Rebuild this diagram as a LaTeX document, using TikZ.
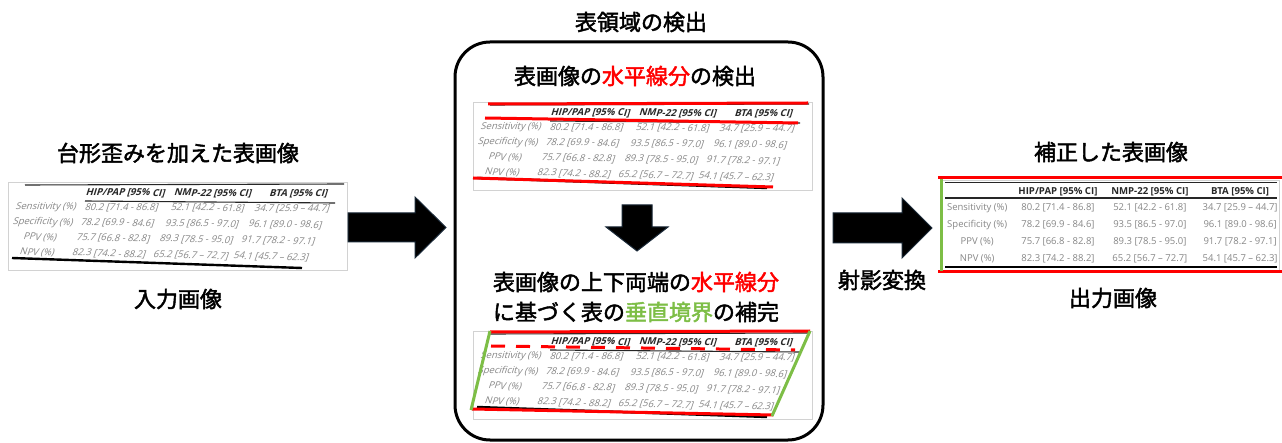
\documentclass[tikz,border=0pt]{standalone}
\usepackage{fontspec}
\newfontfamily\jp{Noto Sans CJK JP}[FakeBold=2]
\newfontfamily\tbl{Open Sans}
\usetikzlibrary{calc}
\definecolor{myred}{RGB}{255,0,0}
\definecolor{mygreen}{RGB}{125,190,70}
\definecolor{bodygray}{RGB}{135,135,135}
\definecolor{hdgray}{RGB}{40,40,40}
\definecolor{bordergray}{RGB}{210,210,210}
\definecolor{arrowedge}{RGB}{25,40,55}

\newcommand\tcell[6]{%
  \path ($(#1TL)!#4!(#1BL)$) coordinate (#1#2a) ($(#1TR)!#4!(#1BR)$) coordinate (#1#2b);
  \node[#5, rotate={\trot*#4}, xslant=\tslant] (#1#2) at ($(#1#2a)!#3!(#1#2b)$) {#6};}

\newcommand\drawcells[1]{%
  \tcell{#1}{h2}{0.346}{0.106}{hd}{HIP/PAP [95\% CI]}
  \tcell{#1}{h3}{0.618}{0.106}{hd}{NMP-22 [95\% CI]}
  \tcell{#1}{h4}{0.885}{0.106}{hd}{BTA [95\% CI]}
  \tcell{#1}{a1}{0.107}{0.294}{bd}{Sensitivity (\%)}
  \tcell{#1}{a2}{0.346}{0.294}{bd}{80.2 [71.4 - 86.8]}
  \tcell{#1}{a3}{0.618}{0.294}{bd}{52.1 [42.2 - 61.8]}
  \tcell{#1}{a4}{0.885}{0.294}{bd}{34.7 [25.9 – 44.7]}
  \tcell{#1}{b1}{0.107}{0.494}{bd}{Specificity (\%)}
  \tcell{#1}{b2}{0.346}{0.494}{bd}{78.2 [69.9 - 84.6]}
  \tcell{#1}{b3}{0.618}{0.494}{bd}{93.5 [86.5 - 97.0]}
  \tcell{#1}{b4}{0.885}{0.494}{bd}{96.1 [89.0 - 98.6]}
  \tcell{#1}{c1}{0.107}{0.694}{bd}{PPV (\%)}
  \tcell{#1}{c2}{0.346}{0.694}{bd}{75.7 [66.8 - 82.8]}
  \tcell{#1}{c3}{0.618}{0.694}{bd}{89.3 [78.5 - 95.0]}
  \tcell{#1}{c4}{0.885}{0.694}{bd}{91.7 [78.2 - 97.1]}
  \tcell{#1}{d1}{0.107}{0.894}{bd}{NPV (\%)}
  \tcell{#1}{d2}{0.346}{0.894}{bd}{82.3 [74.2 - 88.2]}
  \tcell{#1}{d3}{0.618}{0.894}{bd}{65.2 [56.7 – 72.7]}
  \tcell{#1}{d4}{0.885}{0.894}{bd}{54.1 [45.7 – 62.3]}
}

\newcommand\disttable[1]{%
  \coordinate (#1TL) at (16,185); \coordinate (#1TR) at (340,185);
  \coordinate (#1BL) at (4,260);  \coordinate (#1BR) at (302,266.5);
  \coordinate (#1bx1) at (8,182); \coordinate (#1bx2) at (347,270);
  \coordinate (#1t1) at (25,185); \coordinate (#1t2) at (344,184);
  \coordinate (#1u1) at (85,201); \coordinate (#1u2) at (335,203);
  \coordinate (#1b1) at (12,258); \coordinate (#1b2) at (302,268);
  \fill[white] (#1bx1) rectangle (#1bx2);
  \draw[imgborder] (#1bx1) rectangle (#1bx2);
  \draw[thinrule] (#1t1) -- (#1t2);
  \draw[thinrule] (#1u1) -- (#1u2);
  \draw[thickrule] (#1b1) -- (#1b2);
  \def\trot{-2}\def\tslant{0.3}%
  \drawcells{#1}%
}

\begin{document}
\begin{tikzpicture}[x=1pt,y=-1pt,
  hd/.style={font=\tbl\bfseries\fontsize{9.6}{11}\selectfont, text=hdgray, inner sep=0pt},
  bd/.style={font=\tbl\fontsize{9.5}{11}\selectfont, text=bodygray, inner sep=0pt},
  lbl/.style={font=\jp\fontsize{22}{30}\selectfont, inner sep=0pt, align=center},
  imgborder/.style={draw=bordergray, line width=0.8pt},
  thinrule/.style={draw=black!85, line width=1.1pt},
  thickrule/.style={draw=black, line width=2.4pt},
  redline/.style={draw=myred, line width=3pt},
  greenline/.style={draw=mygreen, line width=3pt},
  bigarrow/.style={fill=black, draw=arrowedge, line width=1pt, line join=miter}]

\path[use as bounding box, fill=white] (0,0) rectangle (1282,443);

% ---------- big box ----------
\draw[line width=3pt, rounded corners=35pt] (455,42) rectangle (823,440);

% ---------- titles ----------
\node[lbl] (tInTitle) at (178,153) {台形歪みを加えた表画像};
\node[lbl] (tIn) at (178,299) {入力画像};
\node[lbl] (tDet) at (641,22) {表領域の検出};
\node[lbl] (tStep1) at (635,76) {表画像の\textcolor{myred}{水平線分}の検出};
\node[lbl] (tStep2) at (636,297) {表画像の上下両端の\textcolor{myred}{水平線分}\\に基づく表の\textcolor{mygreen}{垂直境界}の補完};
\node[lbl] (tOutTitle) at (1111,152) {補正した表画像};
\node[lbl] (tOut) at (1113,298) {出力画像};
\node[lbl] (tProj) at (882,280) {射影変換};

% ---------- distorted tables ----------
\begin{scope}
  \disttable{L}
\end{scope}
\begin{scope}[shift={(465,-80)}]
  \disttable{M}
\end{scope}
\begin{scope}[shift={(465,149)}]
  \disttable{N}
\end{scope}

% ---------- rectified table ----------
\coordinate (RTL) at (941,183); \coordinate (RTR) at (1279,183);
\coordinate (RBL) at (941,268); \coordinate (RBR) at (1279,268);
\coordinate (Rbx1) at (941,180); \coordinate (Rbx2) at (1279,270);
\draw[imgborder] (Rbx1) rectangle (Rbx2);
\coordinate (Rt1) at (945,182); \coordinate (Rt2) at (1277,182);
\coordinate (Ru1) at (945,198); \coordinate (Ru2) at (1277,198);
\coordinate (Rb1) at (945,267); \coordinate (Rb2) at (1277,267);
\draw[thinrule, line width=0.9pt] (Rt1) -- (Rt2);
\draw[thinrule] (Ru1) -- (Ru2);
\draw[thickrule] (Rb1) -- (Rb2);
\def\trot{0}\def\tslant{0}
\drawcells{R}

% ---------- red / green detected lines ----------
\coordinate (m1a) at (488,104); \coordinate (m1b) at (808,103);
\coordinate (m2a) at (485,118); \coordinate (m2b) at (798,123);
\coordinate (m3a) at (473,178); \coordinate (m3b) at (773,187);
\draw[redline] (m1a) -- (m1b);
\draw[redline] (m2a) -- (m2b);
\draw[redline] (m3a) -- (m3b);

\coordinate (n1a) at (490,332); \coordinate (n1b) at (810,331);
\coordinate (n2a) at (491,346); \coordinate (n2b) at (795,350);
\coordinate (n3a) at (472,409); \coordinate (n3b) at (773,415);
\coordinate (g1a) at (490,331); \coordinate (g1b) at (471,410);
\coordinate (g2a) at (810,331); \coordinate (g2b) at (772,416);
\draw[redline] (n1a) -- (n1b);
\draw[redline, dash pattern=on 14pt off 11pt] (n2a) -- (n2b);
\draw[redline] (n3a) -- (n3b);
\draw[greenline] (g1a) -- (g1b);
\draw[greenline] (g2a) -- (g2b);

\coordinate (r1a) at (938,178); \coordinate (r1b) at (1282,178);
\coordinate (r2a) at (938,272); \coordinate (r2b) at (1282,272);
\coordinate (rga) at (941,179); \coordinate (rgb) at (941,271);
\draw[redline] (r1a) -- (r1b);
\draw[redline] (r2a) -- (r2b);
\draw[greenline] (rga) -- (rgb);

% ---------- block arrows ----------
\draw[bigarrow] (348,213) -- (415,213) -- (415,197) -- (446,227.5) -- (415,258) -- (415,242) -- (348,242) -- cycle;
\draw[bigarrow] (833,213) -- (902,213) -- (902,198) -- (932,228) -- (902,258) -- (902,243) -- (833,243) -- cycle;
\draw[bigarrow] (622,205) -- (652,205) -- (652,227) -- (668,227) -- (637,251) -- (606,227) -- (622,227) -- cycle;
\end{tikzpicture}
\end{document}
